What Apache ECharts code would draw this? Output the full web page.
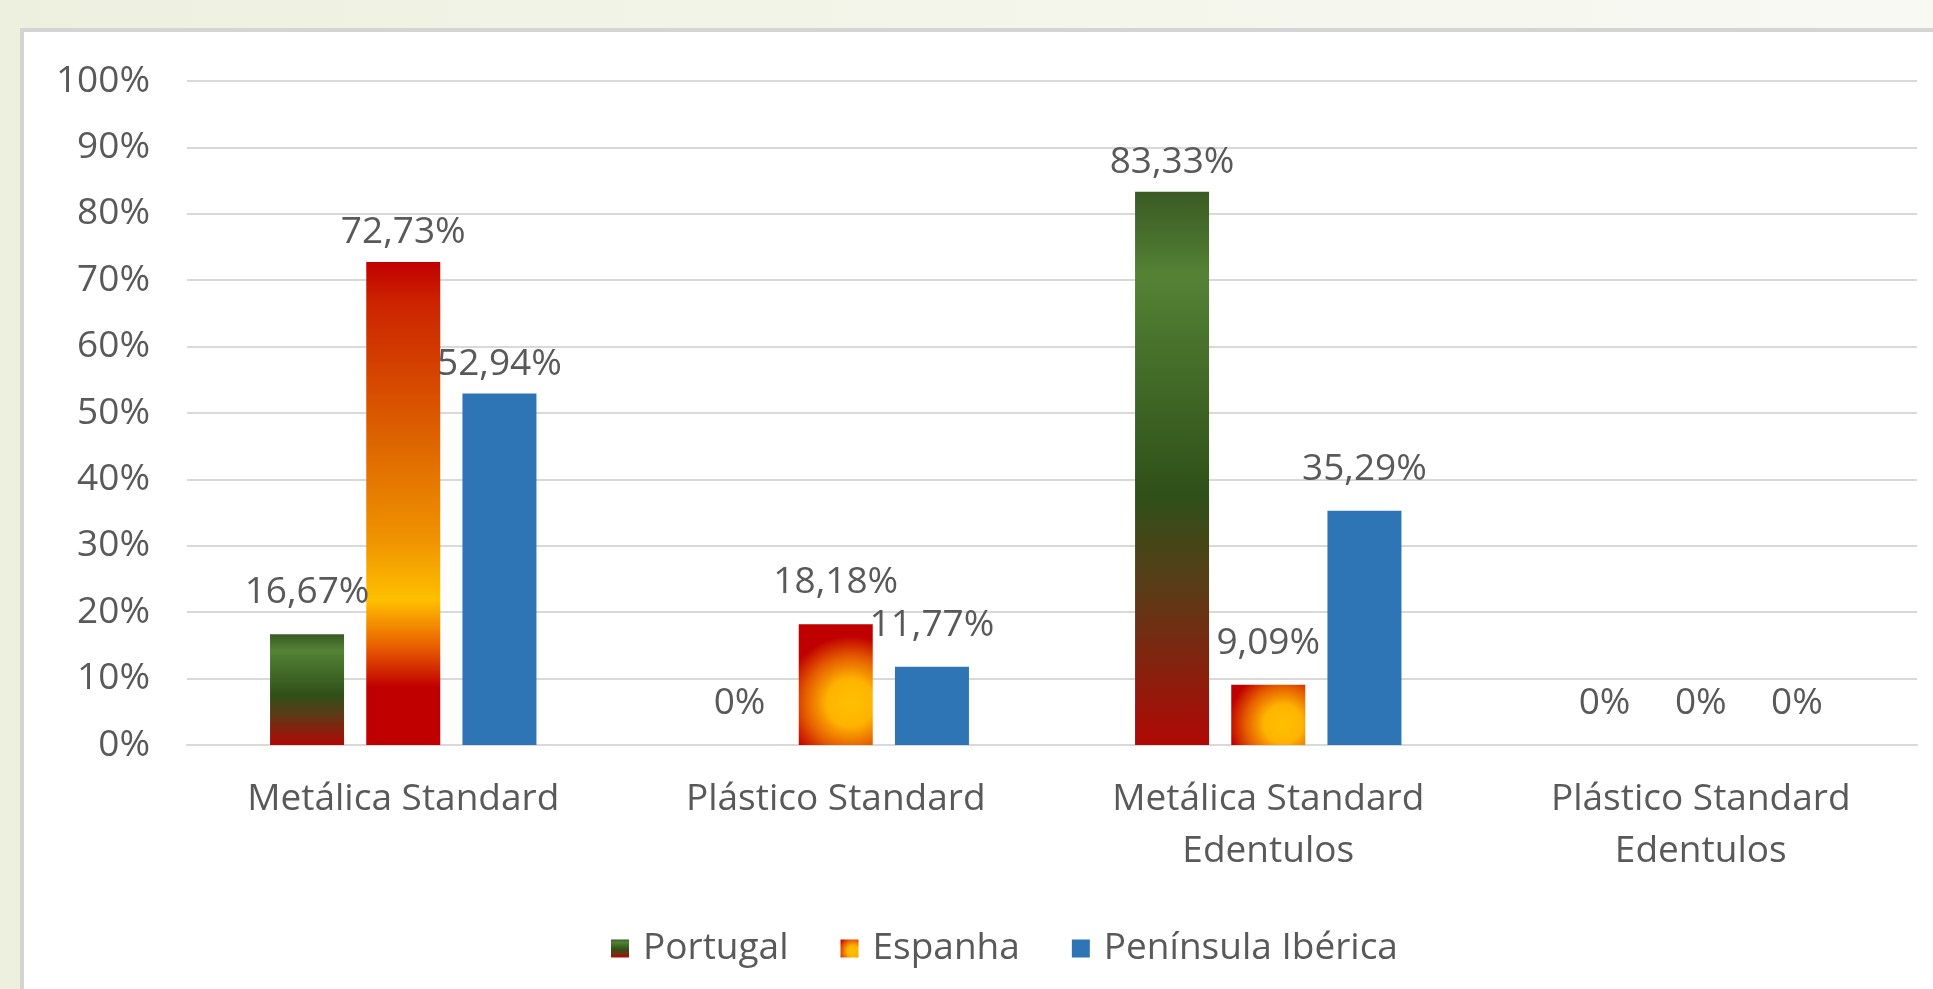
<!DOCTYPE html>
<html>
<head>
<meta charset="utf-8">
<script src="https://cdn.jsdelivr.net/npm/echarts@6/dist/echarts.min.js"></script>
<style>
  html, body { margin: 0; padding: 0; width: 1933px; height: 989px; overflow: hidden;
    background: linear-gradient(90deg, #edf0df 0%, #f2f4e8 40%, #f8f9f3 100%); }
  #panel { position: absolute; left: 20px; top: 28px; width: 1913px; height: 961px;
    background: #ffffff; border-left: 4px solid #d4d4d4; border-top: 4px solid #d4d4d4; box-sizing: border-box; }
  #chart { position: absolute; left: 0; top: 0; width: 1933px; height: 989px; }
</style>
</head>
<body>
<div id="panel"></div>
<div id="chart"></div>
<script>
const categories = ['Metálica Standard', 'Plástico Standard', 'Metálica Standard\nEdentulos', 'Plástico Standard\nEdentulos'];
const seriesNames = ['Portugal', 'Espanha', 'Península Ibérica'];
const portugal = [16.67, 0, 83.33, 0];
const espanha = [72.73, 18.18, 9.09, 0];
const peninsula = [52.94, 11.77, 35.29, 0];
const yTicks = { min: 0, max: 100, interval: 10 };

const textColor = '#595959';
const fontFamily = '"Open Sans", "Noto Sans", sans-serif';
const fontSize = 37;

const portugalColor = new echarts.graphic.LinearGradient(0, 0, 0, 1, [
  { offset: 0, color: '#3a5a24' },
  { offset: 0.15, color: '#548235' },
  { offset: 0.55, color: '#2f5019' },
  { offset: 0.72, color: '#5b3b17' },
  { offset: 1, color: '#b00805' }
]);
const espanhaTall = new echarts.graphic.LinearGradient(0, 0, 0, 1, [
  { offset: 0, color: '#c00000' },
  { offset: 0.08, color: '#cc2200' },
  { offset: 0.35, color: '#dc6000' },
  { offset: 0.58, color: '#f09400' },
  { offset: 0.7, color: '#ffc000' },
  { offset: 0.8, color: '#e85a00' },
  { offset: 0.88, color: '#c00000' },
  { offset: 1, color: '#c00000' }
]);
const espanhaSmall = new echarts.graphic.RadialGradient(0.7, 0.65, 0.9, [
  { offset: 0, color: '#ffc000' },
  { offset: 0.35, color: '#ffb400' },
  { offset: 0.7, color: '#e45a00' },
  { offset: 1, color: '#c00000' }
]);
const blue = '#2e75b6';

function fmt(v) {
  return (Number.isInteger(v) ? String(v) : v.toFixed(2).replace('.', ',')) + '%';
}

const labelCfg = {
  show: true, position: 'top', distance: 22,
  color: textColor, fontFamily: fontFamily, fontSize: fontSize,
  formatter: p => fmt(p.value)
};
// taller bars carry their labels a little closer, as in the original
function item(v, color) {
  const o = { value: v, label: { distance: v >= 50 ? 11 : 23 } };
  if (color) o.itemStyle = { color: color };
  return o;
}

const chart = echarts.init(document.getElementById('chart'), null, { renderer: 'canvas' });
chart.setOption({
  backgroundColor: 'transparent',
  animation: false,
  grid: { left: 187, right: 16, top: 81, bottom: 244 },
  legend: {
    data: seriesNames.map((n, i) => ({ name: n, itemStyle: { color: [portugalColor, espanhaSmall, blue][i] } })),
    left: 606, top: 925,
    itemWidth: 18, itemHeight: 18, itemGap: 52,
    icon: 'rect',
    textStyle: { color: textColor, fontFamily: fontFamily, fontSize: fontSize, padding: [0, 0, 0, 9] }
  },
  xAxis: {
    type: 'category', data: categories,
    axisLine: { show: true, lineStyle: { color: '#d9d9d9', width: 2 } },
    axisTick: { show: false },
    axisLabel: { color: textColor, fontFamily: fontFamily, fontSize: fontSize, lineHeight: 52, margin: 28, interval: 0 }
  },
  yAxis: {
    type: 'value', min: yTicks.min, max: yTicks.max, interval: yTicks.interval,
    axisLine: { show: false }, axisTick: { show: false },
    splitLine: { lineStyle: { color: '#d9d9d9', width: 2 } },
    axisLabel: { color: textColor, fontFamily: fontFamily, fontSize: fontSize, margin: 37, formatter: '{value}%' }
  },
  series: [
    { name: seriesNames[0], type: 'bar', data: portugal.map(v => item(v)), barWidth: 74, barGap: '30%',
      itemStyle: { color: portugalColor }, label: labelCfg },
    { name: seriesNames[1], type: 'bar', barWidth: 74, barGap: '30%',
      data: espanha.map(v => item(v, v >= 30 ? espanhaTall : espanhaSmall)),
      itemStyle: { color: espanhaSmall }, label: labelCfg },
    { name: seriesNames[2], type: 'bar', data: peninsula.map(v => item(v)), barWidth: 74, barGap: '30%',
      itemStyle: { color: blue }, label: labelCfg }
  ]
});
</script>
</body>
</html>
